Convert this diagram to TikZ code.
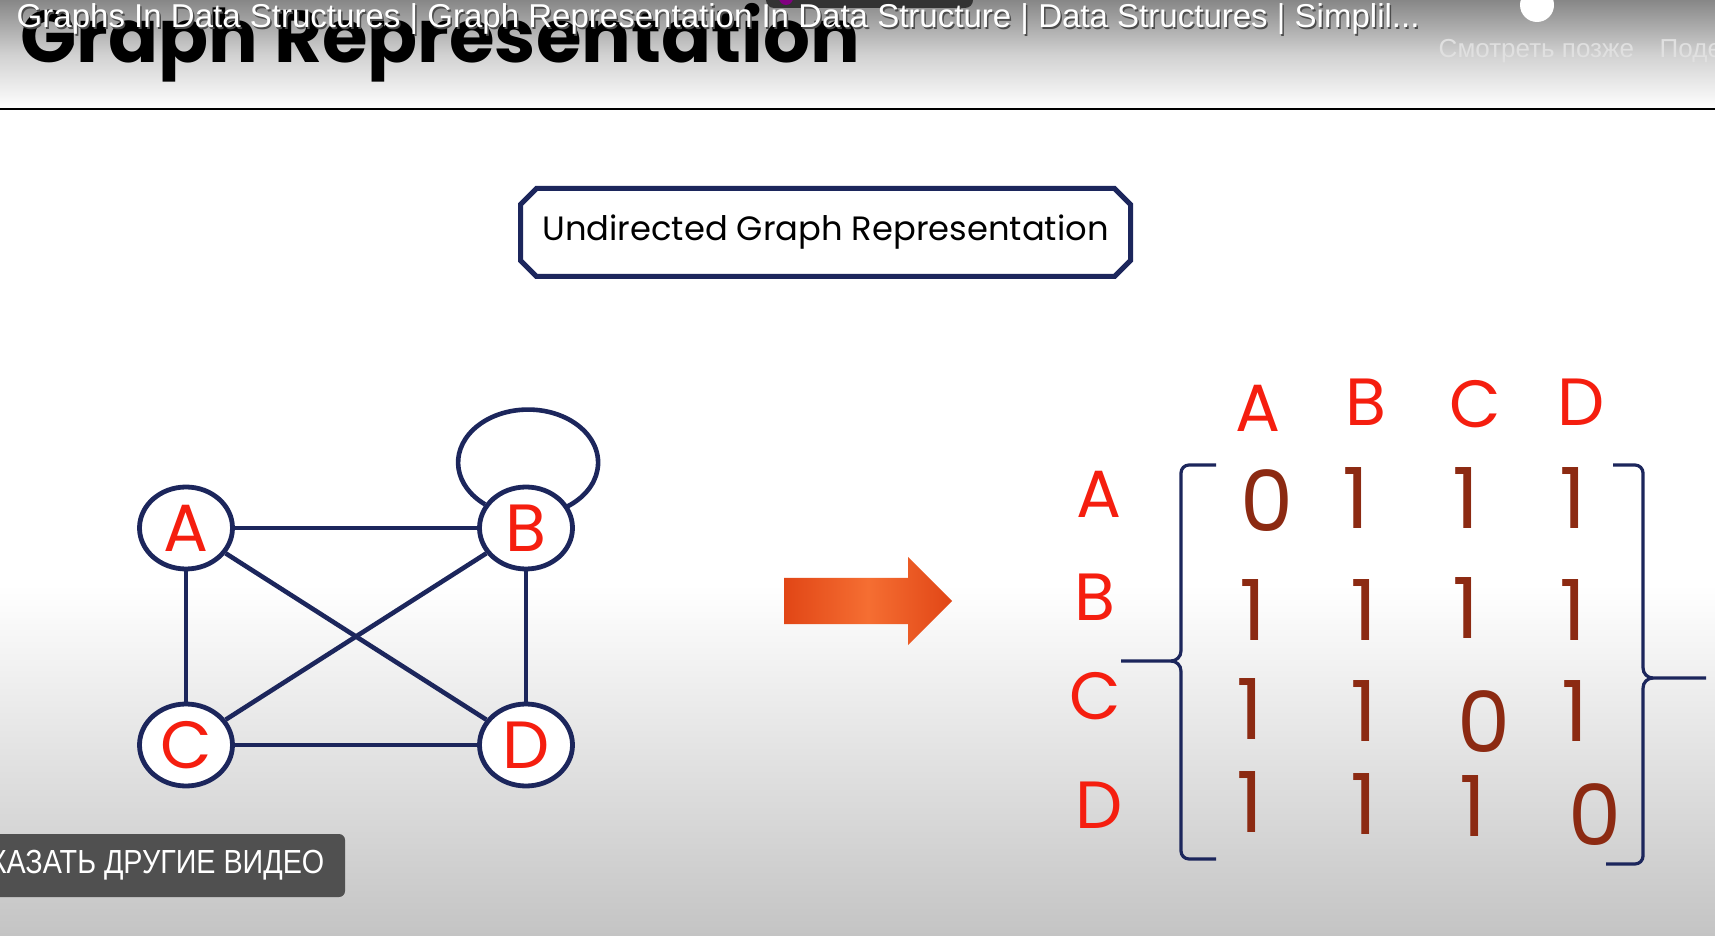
\documentclass[tikz,border=0pt]{standalone}
\usepackage{fontspec}
\setmainfont{Poppins}
\newfontfamily\uifont{Liberation Sans}
\usepackage{tikz}
\usetikzlibrary{shapes.geometric,shapes.misc,positioning,calc}
\definecolor{edgeNavy}{RGB}{28,38,92}
\definecolor{labelRed}{RGB}{245,30,15}
\definecolor{digitBrown}{RGB}{140,42,18}
\definecolor{arrowOrange}{RGB}{245,110,50}
\definecolor{arrowDark}{RGB}{225,70,22}
\definecolor{topGray}{RGB}{135,135,135}
\definecolor{floorGray}{RGB}{196,196,196}
\definecolor{btnGray}{RGB}{80,80,80}
\tikzset{
  vert/.style={draw=edgeNavy,line width=0.048cm,ellipse,minimum width=0.93cm,minimum height=0.82cm,
               inner sep=0pt,fill=white,text=labelRed,font=\fontsize{19pt}{19pt}\selectfont},
  link/.style={draw=edgeNavy,line width=0.046cm},
  hdr/.style={chamfered rectangle,chamfered rectangle xsep=0.08cm,chamfered rectangle ysep=0.08cm,
              draw=edgeNavy,line width=0.05cm,fill=white,
              minimum width=6.10cm,minimum height=0.88cm,inner sep=0pt,font=\fontsize{9.6pt}{9.6pt}\selectfont},
  lbl/.style={text=labelRed,inner sep=0pt,font=\fontsize{19pt}{19pt}\selectfont},
  entry/.style={text=digitBrown,inner sep=0pt,font=\fontsize{24pt}{24pt}\selectfont},
  brk/.style={draw=edgeNavy,line width=0.032cm,rounded corners=0.08cm},
  ovl/.style={text=white,inner sep=0pt,font=\uifont\fontsize{9.4pt}{9.4pt}\selectfont},
  ovlshade/.style={text=black!70,inner sep=0pt,font=\uifont\fontsize{9.4pt}{9.4pt}\selectfont},
}

\begin{document}
\begin{tikzpicture}
  \clip (0,0) rectangle (17.15,9.35);
  \fill[white] (0,0) rectangle (17.15,9.35);
  \shade[top color=white,bottom color=floorGray] (0,0) rectangle (17.15,3.5);
  \shade[top color=topGray,bottom color=white,middle color=black!18] (0,8.26) rectangle (17.15,9.35);
  \draw[black,line width=0.02cm] (0,8.26) -- (17.15,8.26);

  \node[anchor=base west,inner sep=0pt,font=\bfseries\fontsize{21pt}{21pt}\selectfont] (title) at (0.20,8.72) {Graph Representation};

  \fill[black!80,rounded corners=0.08cm] (7.66,9.27) rectangle (9.73,9.60);
  \fill[violet] (7.86,9.37) circle (0.07);
  \fill[white] (15.37,9.30) circle (0.17);

  \node[ovlshade,anchor=base west] at (0.175,9.055) {Graphs In Data Structures | Graph Representation In Data Structure | Data Structures | Simplil...};
  \node[ovl,anchor=base west] (vidtitle) at (0.16,9.07) {Graphs In Data Structures | Graph Representation In Data Structure | Data Structures | Simplil...};
  \node[ovl,text=black!12,anchor=base west,font=\uifont\fontsize{7.4pt}{7.4pt}\selectfont] (later) at (14.38,8.77) {Смотреть позже};
  \node[ovl,text=black!12,anchor=base west,font=\uifont\fontsize{7.4pt}{7.4pt}\selectfont] (share) at (16.59,8.77) {Поделиться};

  \node[hdr] (hdr) at (8.255,7.025) {Undirected Graph Representation};

  \node[vert] (A) at (1.86,4.07) {A};
  \node[vert] (B) at (5.26,4.07) {B};
  \node[vert] (C) at (1.86,1.90) {C};
  \node[vert] (D) at (5.26,1.90) {D};

  \draw[link] (A) -- (B);
  \draw[link] (A) -- (C);
  \draw[link] (A) -- (D);
  \draw[link] (B) -- (C);
  \draw[link] (B) -- (D);
  \draw[link] (C) -- (D);
  \draw[link] (B.150) arc[start angle=232,end angle=-56,x radius=0.70cm,y radius=0.53cm];

  \shade[left color=arrowDark,right color=arrowDark,middle color=arrowOrange]
    (7.84,3.11) -- (9.08,3.11) -- (9.08,2.90) -- (9.52,3.34) -- (9.08,3.78) -- (9.08,3.57) -- (7.84,3.57) -- cycle;

  \foreach \lx/\ly/\lt in {12.58/5.27/A,13.66/5.33/B,14.75/5.31/C,15.81/5.33/D}
    \node[lbl] (col\lt) at (\lx,\ly) {\lt};
  \foreach \lx/\ly/\lt in {10.99/4.41/A,10.95/3.38/B,10.95/2.39/C,10.99/1.30/D}
    \node[lbl] (row\lt) at (\lx,\ly) {\lt};

  \foreach \ex/\ey/\ev [count=\k] in {12.67/4.34/0,13.56/4.37/1,14.66/4.37/1,15.73/4.37/1,
                                       12.53/3.25/1,13.64/3.25/1,14.66/3.27/1,15.73/3.25/1,
                                       12.50/2.26/1,13.64/2.24/1,14.84/2.13/0,15.75/2.24/1,
                                       12.50/1.33/1,13.64/1.31/1,14.73/1.29/1,15.95/1.20/0}
    \node[entry] (e\k) at (\ex,\ey) {\ev};

  \draw[brk] (12.16,4.70) -- (11.81,4.70) -- (11.81,2.84);
  \draw[link,line width=0.032cm] (11.81,2.84) to[out=-90,in=0] (11.71,2.74) -- (11.21,2.74);
  \draw[link,line width=0.032cm] (11.71,2.74) to[out=0,in=90] (11.81,2.64);
  \draw[brk] (11.81,2.64) -- (11.81,0.76) -- (12.16,0.76);

  \draw[brk] (16.13,4.70) -- (16.43,4.70) -- (16.43,2.67);
  \draw[link,line width=0.032cm] (16.43,2.67) to[out=-90,in=180] (16.53,2.57) -- (17.06,2.57);
  \draw[link,line width=0.032cm] (16.53,2.57) to[out=180,in=90] (16.43,2.47);
  \draw[brk] (16.43,2.47) -- (16.43,0.71) -- (16.06,0.71);

  \fill[btnGray,rounded corners=0.06cm] (-0.2,0.38) rectangle (3.45,1.01);
  \node[ovl,anchor=east,font=\uifont\fontsize{9.5pt}{9.5pt}\selectfont] (more) at (3.25,0.70) {\scalebox{0.86}[1]{КАЗАТЬ ДРУГИЕ ВИДЕО}};
\end{tikzpicture}
\end{document}
